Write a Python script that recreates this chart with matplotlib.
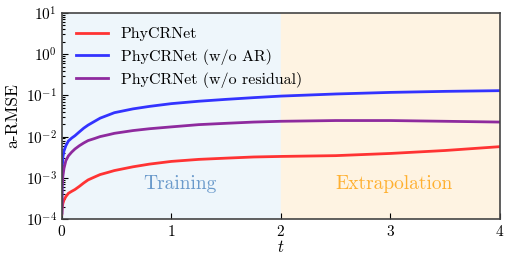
import numpy as np
import matplotlib
matplotlib.use("Agg")
import matplotlib.pyplot as plt
from matplotlib.ticker import LogLocator, NullLocator

plt.rcParams['font.family'] = 'serif'
plt.rcParams['font.serif'] = ['cmr10', 'DejaVu Serif']
plt.rcParams['mathtext.fontset'] = 'cm'
plt.rcParams['axes.formatter.use_mathtext'] = True

# values
t = [0, 0.003, 0.01, 0.02, 0.037, 0.06, 0.09, 0.12, 0.16, 0.2, 0.24, 0.3, 0.35, 0.42,
     0.48, 0.65, 0.8, 1.0, 1.25, 1.5, 1.75, 2.0, 2.5, 3.0, 3.5, 4.0]
phycrnet = [1.3e-4, 1.8e-4, 2.4e-4, 2.9e-4, 3.5e-4, 4.2e-4, 4.7e-4, 5.2e-4, 6.2e-4,
            7.5e-4, 8.9e-4, 1.05e-3, 1.2e-3, 1.35e-3, 1.5e-3, 1.85e-3, 2.15e-3, 2.5e-3,
            2.8e-3, 3.0e-3, 3.2e-3, 3.3e-3, 3.45e-3, 3.9e-3, 4.6e-3, 5.7e-3]
no_ar = [1.4e-4, 1.5e-3, 3.2e-3, 4.5e-3, 6.0e-3, 7.8e-3, 9.2e-3, 1.05e-2, 1.3e-2,
         1.6e-2, 1.9e-2, 2.35e-2, 2.8e-2, 3.3e-2, 3.8e-2, 4.7e-2, 5.4e-2, 6.3e-2,
         7.2e-2, 8.0e-2, 8.8e-2, 9.6e-2, 1.08e-1, 1.18e-1, 1.25e-1, 1.3e-1]
no_res = [1.4e-4, 6e-4, 1.1e-3, 1.7e-3, 2.6e-3, 3.4e-3, 4.2e-3, 5.0e-3, 6.0e-3,
          7.0e-3, 8.0e-3, 9.0e-3, 1.0e-2, 1.1e-2, 1.2e-2, 1.4e-2, 1.55e-2, 1.72e-2,
          1.95e-2, 2.1e-2, 2.25e-2, 2.35e-2, 2.45e-2, 2.45e-2, 2.35e-2, 2.25e-2]
labels = ['PhyCRNet', 'PhyCRNet (w/o AR)', 'PhyCRNet (w/o residual)']
colors = ['#ff3333', '#3333ff', '#8e2a9e']

fig = plt.figure(figsize=(5.15, 2.58), dpi=100)
ax = fig.add_axes([0.120, 0.151, 0.851, 0.799])

ax.axvspan(0, 2, color='#eef6fb', zorder=0)
ax.axvspan(2, 4, color='#fef3e2', zorder=0)

for y, lab, c in zip([phycrnet, no_ar, no_res], labels, colors):
    ax.plot(t, y, color=c, lw=2, label=lab)

ax.set_yscale('log')
ax.set_xlim(0, 4)
ax.set_ylim(1e-4, 1e1)
ax.set_xticks([0, 1, 2, 3, 4])
ax.xaxis.set_minor_locator(NullLocator())
ax.yaxis.set_minor_locator(LogLocator(base=10, subs=np.arange(2, 10), numticks=50))
ax.tick_params(which='both', direction='in', labelsize=11)
ax.tick_params(which='major', length=4)
ax.tick_params(which='minor', length=2.5, width=0.8)
for s in ax.spines.values():
    s.set_color('#444444')
    s.set_linewidth(1.2)

ax.text(1.08, 7e-4, 'Training', color='#6a9acb', fontsize=14, ha='center', va='center')
ax.text(3.03, 7e-4, 'Extrapolation', color='#ffb030', fontsize=14, ha='center', va='center')

ax.set_xlabel('$t$', fontsize=12, labelpad=0)
ax.set_ylabel('a-RMSE', fontsize=12.5)
ax.legend(loc='upper left', frameon=False, fontsize=11.5, handlelength=2.0,
          labelspacing=0.45)

fig.savefig('out.png', dpi=100)
